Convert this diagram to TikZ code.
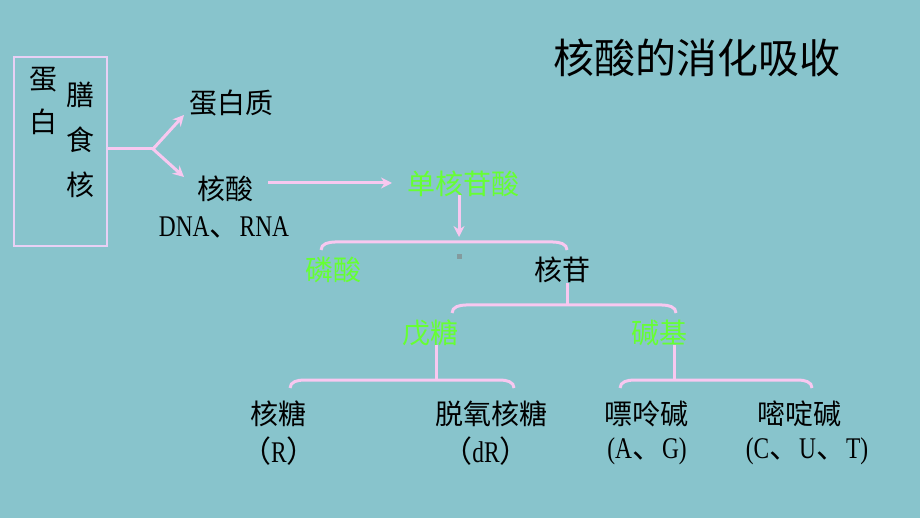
\documentclass[tikz,border=0pt]{standalone}
\usepackage{fontspec}
\setmainfont{Liberation Serif}
\newfontfamily\cjk{Noto Sans CJK SC}
\newfontfamily\latn[FakeStretch=0.78]{Liberation Serif}
\usetikzlibrary{arrows.meta}
\definecolor{bg}{HTML}{88C4CC}
\definecolor{pk}{HTML}{F8C8F0}
\definecolor{gr}{HTML}{66FF33}
\definecolor{bx}{HTML}{E8D0F4}
\newcommand{\dn}{{\cjk 、}}
\newcommand{\lp}{{\cjk （}}
\newcommand{\rp}{{\cjk ）}}
\tikzset{
  cn/.style={inner sep=0pt, font=\cjk\fontsize{28}{30}\selectfont, text=black},
  gn/.style={cn, text=gr},
  lat/.style={inner sep=0pt, font=\latn\fontsize{30}{32}\selectfont, text=black},
  pline/.style={draw=pk, line width=3pt},
  parr/.style={pline, -{Stealth[length=11pt,width=11pt]}},
}
\newcommand{\brk}[3]{\draw[pline] (#1,#3+8) to[out=90,in=180] (#1+14,#3) -- (#2-14,#3) to[out=0,in=90] (#2,#3+8);}
\begin{document}
\begin{tikzpicture}[x=1pt,y=-1pt]
\fill[bg] (0,0) rectangle (920,518);
\useasboundingbox (0,0) rectangle (920,518);
\node[cn, font=\cjk\fontsize{41}{43}\selectfont] (title) at (697,58) {核酸的消化吸收};
\node[draw=bx, line width=1.2pt, minimum width=93pt, minimum height=189pt, inner sep=0pt] (box) at (60.5,151.5) {};
\node[cn] (c1) at (43,80) {蛋};
\node[cn] (c2) at (43,122) {白};
\node[cn] (c3) at (80,95) {膳};
\node[cn] (c4) at (80,140) {食};
\node[cn] (c5) at (80,185) {核};
\coordinate (br) at (153,149);
\node[cn] (prot) at (231,103) {蛋白质};
\node[cn] (hs) at (225,189) {核酸};
\node[lat] (dna) at (224,227) {DNA\dn RNA};
\coordinate (a1) at (184,115);
\coordinate (a2) at (184,177);
\draw[pline] (box.east |- br) -- (br);
\draw[parr] (br) -- (a1);
\draw[parr] (br) -- (a2);
\node[gn] (dhg) at (463,184) {单核苷酸};
\coordinate (a3) at (392,183);
\coordinate (a3s) at (268,183);
\draw[parr] (a3s) -- (a3);
\coordinate (bk1) at (459,237);
\coordinate (bk0) at (459,195);
\draw[parr] (bk0) -- (bk1);
\brk{321}{567}{242}
\fill[gray!60!bg] (457,254) rectangle (462,259);
\node[gn] (ls) at (333,270) {磷酸};
\node[cn] (hg) at (562,270) {核苷};
\draw[pline] (567,283) -- (567,306);
\brk{452}{676}{305}
\node[gn] (wt) at (430,333) {戊糖};
\node[gn] (jj) at (659,333) {碱基};
\draw[pline] (436,345) -- (436,381);
\draw[pline] (674,345) -- (674,381);
\brk{290}{514}{380}
\brk{620}{812}{380}
\node[cn] (ht) at (278,414) {核糖};
\node[lat] (r1) at (279,451) {\lp R\rp};
\node[cn] (tyht) at (491,414) {脱氧核糖};
\node[lat] (r2) at (486,451) {\lp dR\rp};
\node[cn] (pl) at (646,414) {嘌呤碱};
\node[lat] (r3) at (647,451) {(A\dn G)};
\node[cn] (md) at (799,414) {嘧啶碱};
\node[lat] (r4) at (807,451) {(C\dn U\dn T)};
\end{tikzpicture}
\end{document}
